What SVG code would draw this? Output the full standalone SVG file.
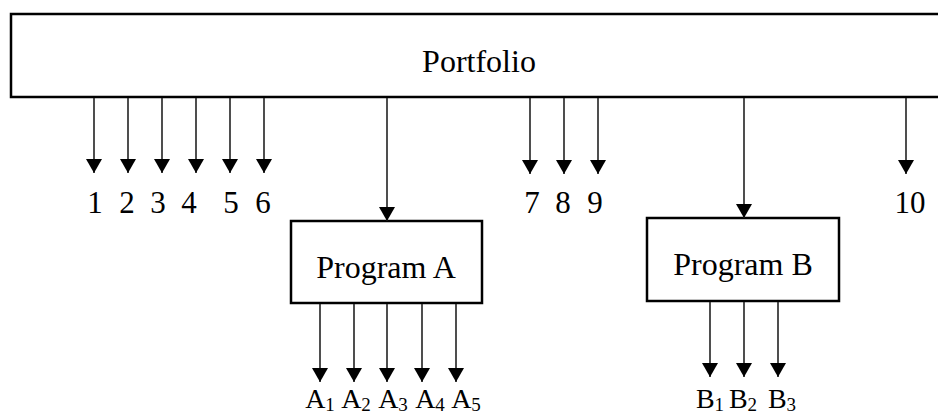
<svg xmlns="http://www.w3.org/2000/svg" width="938" height="417" viewBox="0 0 938 417">
<style>
text{font-family:"Liberation Serif","Times New Roman",serif;fill:#000}
.lbl{font-size:31px;text-anchor:middle}
.sl{font-size:28px;text-anchor:middle}
.big{font-size:32px;text-anchor:middle}
.sub{font-size:19px}
.box{fill:#fff;stroke:#000;stroke-width:2.5}
.c line{stroke:#222;stroke-width:1.6;marker-end:url(#ah)}
</style>
<defs>
<marker id="ah" markerUnits="userSpaceOnUse" markerWidth="15" markerHeight="16" refX="14" refY="8" orient="auto" viewBox="0 0 15 16">
<path d="M0,0 L14,8 L0,16 Z" fill="#000"/>
</marker>
</defs>
<g id="portfolio">
<path class="box" d="M940,14 L11,14 L11,97 L940,97"/>
<text class="big" x="479" y="72">Portfolio</text>
</g>
<g id="programA">
<rect class="box" x="291" y="221" width="191" height="82"/>
<text class="big" x="386" y="278">Program A</text>
</g>
<g id="programB">
<rect class="box" x="647" y="218" width="192" height="83"/>
<text class="big" x="743" y="275">Program B</text>
</g>
<g class="c" id="connectors">
<line x1="94" y1="98" x2="94" y2="173"/>
<line x1="128" y1="98" x2="128" y2="173"/>
<line x1="162" y1="98" x2="162" y2="173"/>
<line x1="196" y1="98" x2="196" y2="173"/>
<line x1="230" y1="98" x2="230" y2="173"/>
<line x1="264" y1="98" x2="264" y2="173"/>
<line x1="387" y1="98" x2="387" y2="221"/>
<line x1="530" y1="98" x2="530" y2="174"/>
<line x1="564" y1="98" x2="564" y2="174"/>
<line x1="598" y1="98" x2="598" y2="174"/>
<line x1="744" y1="98" x2="744" y2="218"/>
<line x1="906" y1="98" x2="906" y2="174"/>
<line x1="320" y1="304" x2="320" y2="382"/>
<line x1="354" y1="304" x2="354" y2="382"/>
<line x1="387" y1="304" x2="387" y2="382"/>
<line x1="422" y1="304" x2="422" y2="382"/>
<line x1="456" y1="304" x2="456" y2="382"/>
<line x1="710" y1="302" x2="710" y2="377"/>
<line x1="744" y1="302" x2="744" y2="377"/>
<line x1="778" y1="302" x2="778" y2="377"/>
</g>
<g id="labels">
<text class="lbl" x="95" y="213">1</text>
<text class="lbl" x="127" y="213">2</text>
<text class="lbl" x="158" y="213">3</text>
<text class="lbl" x="189" y="213">4</text>
<text class="lbl" x="231" y="213">5</text>
<text class="lbl" x="263" y="213">6</text>
<text class="lbl" x="532" y="213">7</text>
<text class="lbl" x="563" y="213">8</text>
<text class="lbl" x="595" y="213">9</text>
<text class="lbl" x="910" y="213">10</text>
<text class="sl" x="320" y="408">A<tspan class="sub" dy="3">1</tspan></text>
<text class="sl" x="356" y="408">A<tspan class="sub" dy="3">2</tspan></text>
<text class="sl" x="393" y="408">A<tspan class="sub" dy="3">3</tspan></text>
<text class="sl" x="430" y="408">A<tspan class="sub" dy="3">4</tspan></text>
<text class="sl" x="466" y="408">A<tspan class="sub" dy="3">5</tspan></text>
<text class="sl" x="710" y="408">B<tspan class="sub" dy="3">1</tspan></text>
<text class="sl" x="743" y="408">B<tspan class="sub" dy="3">2</tspan></text>
<text class="sl" x="782" y="408">B<tspan class="sub" dy="3">3</tspan></text>
</g>
</svg>
